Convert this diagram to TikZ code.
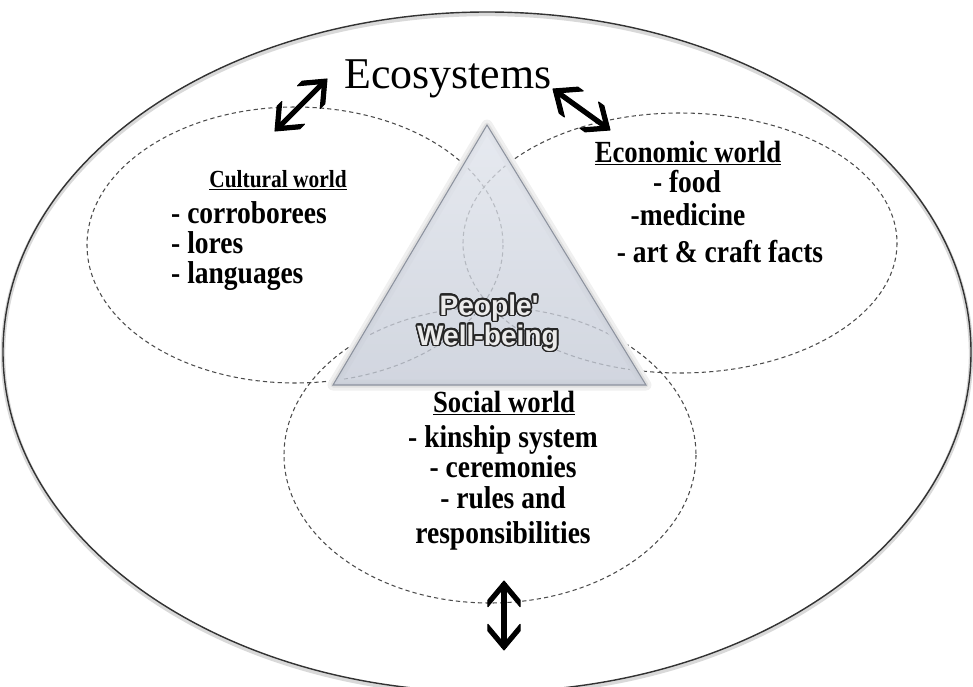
\documentclass[tikz,border=0pt]{standalone}
\usepackage{fontspec}
\setmainfont{Liberation Serif}
\newfontfamily\worldfont{Liberation Serif}[FakeStretch=0.87]
\newfontfamily\wellfont{Liberation Sans}
\usepackage{contour}
\contourlength{0.9pt}
\contournumber{24}
\usetikzlibrary{calc}

\definecolor{tritop}{RGB}{224,228,236}
\definecolor{tribot}{RGB}{196,202,214}
\definecolor{triedge}{RGB}{140,146,158}

% open chevron head at #1, pointing away from #2
\newcommand\chevron[2]{%
  \coordinate (armA) at ($(#1)!0.5cm!40:(#2)$);
  \coordinate (armB) at ($(#1)!0.5cm!-40:(#2)$);
  \coordinate (notch) at ($(#1)!0.13cm!(#2)$);
  \filldraw[line width=0.6pt, line join=round] (#1) -- (armA) -- ($(armA)+(notch)-(#1)$) -- (notch)
        -- ($(armB)+(notch)-(#1)$) -- (armB) -- cycle;
}
% thick double-headed link between #1 and #2
\newcommand\twoheaded[2]{%
  \filldraw[line width=0.6pt] ($(#1)!0.06cm!(#2)+($(#1)!0.042cm!90:(#2)$)-(#1)$)
     -- ($(#1)!0.06cm!(#2)+($(#1)!0.042cm!-90:(#2)$)-(#1)$)
     -- ($(#2)!0.06cm!(#1)+($(#2)!0.042cm!90:(#1)$)-(#2)$)
     -- ($(#2)!0.06cm!(#1)+($(#2)!0.042cm!-90:(#1)$)-(#2)$) -- cycle;
  \chevron{#1}{#2}
  \chevron{#2}{#1}
}

\begin{document}
\begin{tikzpicture}[
    x=0.02cm,
    y=-0.02cm,
    world/.style={
        draw=black!70,
        line width=0.6pt,
        dash pattern=on 2.4pt off 1.8pt
    },
    heading/.style={
        anchor=base,
        font=\worldfont\bfseries\fontsize{17.5}{20}\selectfont
    },
    entry/.style={
        anchor=base,
        font=\worldfont\bfseries\fontsize{18}{20}\selectfont
    }
]
\useasboundingbox (0,0) rectangle (973,686);

% --- Ecosystems ---
\begin{scope}
\clip (0,0) rectangle (973,686);
\draw[black!15, line width=2.5pt] (487,354) ellipse [x radius=484, y radius=340];
\draw[black!80, line width=0.8pt] (487,352) ellipse [x radius=484, y radius=340];
\end{scope}
\node[anchor=base, font=\fontsize{25}{28}\selectfont] (eco) at (448,89) {Ecosystems};

% --- The three worlds ---
\draw[world] (295,245) ellipse [x radius=208, y radius=138];
\draw[world] (680,243) ellipse [x radius=217, y radius=130];
\draw[world] (490,455) ellipse [x radius=206, y radius=148];

% --- Well-being triangle ---
\coordinate (apex) at (487,125);
\coordinate (baseL) at (333,385);
\coordinate (baseR) at (646,385);
\draw[black!6, line width=0.22cm, line join=round] (apex) -- (baseL) -- (baseR) -- cycle;
\draw[black!12, line width=0.1cm, line join=round] (apex) -- (baseL) -- (baseR) -- cycle;
\shade[top color=tritop, bottom color=tribot, fill opacity=0.78] (apex) -- (baseL) -- (baseR) -- cycle;
\draw[triedge, line width=0.6pt] (apex) -- (baseL) -- (baseR) -- cycle;

% --- Links between the worlds and the ecosystems ---
\coordinate (ecoW) at (327,79);
\coordinate (culN) at (275,131);
\coordinate (ecoE) at (553,89);
\coordinate (econN) at (610,130);
\coordinate (socS) at (504,581);
\coordinate (ecoS) at (504,650);
\twoheaded{culN}{ecoW}
\twoheaded{ecoE}{econN}
\twoheaded{socS}{ecoS}

% --- Texts ---
\node[anchor=base, font=\wellfont\bfseries\fontsize{16}{18}\selectfont] (people) at (489,315)
    {\contour{black!85}{\textcolor{black!8}{People'}}};
\node[anchor=base, font=\wellfont\bfseries\fontsize{16}{18}\selectfont] (wellbeing) at (488,345)
    {\contour{black!85}{\textcolor{black!8}{Well-being}}};

% --- Cultural world ---
\node[heading, font=\worldfont\bfseries\fontsize{14}{16}\selectfont] (cultural) at (278,187) {\underline{Cultural world}};
\node[entry, anchor=base west] (corroborees) at (165,223) {- corroborees};
\node[entry, anchor=base west] (lores) at (165,253) {- lores};
\node[entry, anchor=base west] (languages) at (165,283) {- languages};

% --- Economic world ---
\node[heading] (economic) at (688,162) {\underline{Economic world}};
\node[entry] (food) at (687,192) {- food};
\node[entry] (medicine) at (688,225) {-medicine};
\node[entry] (crafts) at (720,262) {- art \& craft facts};

% --- Social world ---
\node[heading] (social) at (504,412) {\underline{Social world}};
\node[entry] (kinship) at (503,447) {- kinship system};
\node[entry] (ceremonies) at (503,477) {- ceremonies};
\node[entry] (rules) at (503,508) {- rules and};
\node[entry] (duties) at (503,543) {responsibilities};

\end{tikzpicture}
\end{document}
